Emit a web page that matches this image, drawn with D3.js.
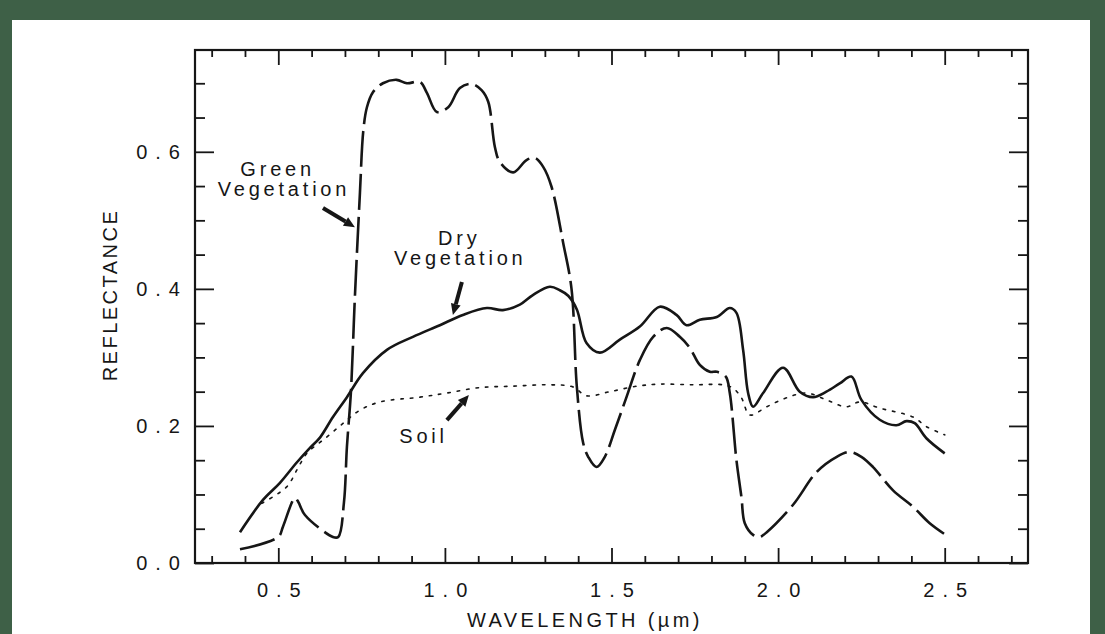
<!DOCTYPE html>
<html>
<head>
<meta charset="utf-8">
<script src="https://cdn.jsdelivr.net/npm/d3@7/dist/d3.min.js"></script>
<style>
  html, body { margin: 0; padding: 0; background: #3e6047; }
  svg { display: block; }
</style>
</head>
<body>
<svg id="chart" width="1105" height="634"></svg>
<script>
// ---------------- data ----------------
const greenW = [0.385,0.50,0.514,0.55,0.56,0.58,0.664,0.68,0.697,0.706,0.718,0.73,0.745,0.755,0.766,0.784,0.814,0.855,0.886,0.925,0.946,0.976,1.01,1.045,1.08,1.11,1.13,1.15,1.165,1.205,1.245,1.27,1.295,1.32,1.355,1.38,1.396,1.415,1.43,1.455,1.48,1.51,1.545,1.585,1.625,1.666,1.705,1.735,1.765,1.795,1.816,1.843,1.855,1.875,1.89,1.90,1.925,1.945,1.966,2.045,2.116,2.176,2.215,2.25,2.285,2.345,2.405,2.455,2.50];
const greenR = [0.020,0.038,0.053,0.095,0.089,0.070,0.038,0.038,0.088,0.17,0.25,0.39,0.54,0.63,0.665,0.687,0.70,0.705,0.70,0.702,0.686,0.658,0.665,0.693,0.699,0.69,0.673,0.607,0.585,0.57,0.588,0.591,0.578,0.549,0.467,0.40,0.257,0.175,0.155,0.14,0.155,0.194,0.242,0.296,0.33,0.343,0.33,0.314,0.289,0.279,0.279,0.272,0.248,0.15,0.096,0.058,0.041,0.038,0.045,0.085,0.133,0.155,0.162,0.155,0.14,0.106,0.082,0.058,0.042];

const dryW = [0.385,0.454,0.505,0.556,0.595,0.625,0.664,0.706,0.754,0.826,0.904,0.985,1.054,1.126,1.174,1.225,1.264,1.315,1.345,1.37,1.396,1.425,1.465,1.525,1.585,1.645,1.695,1.725,1.765,1.816,1.855,1.875,1.895,1.91,1.925,1.955,2.015,2.065,2.105,2.145,2.185,2.22,2.25,2.305,2.355,2.385,2.41,2.445,2.50];
const dryR = [0.045,0.092,0.117,0.147,0.168,0.183,0.213,0.242,0.277,0.311,0.33,0.347,0.362,0.372,0.369,0.377,0.391,0.403,0.398,0.39,0.37,0.321,0.307,0.326,0.345,0.374,0.362,0.347,0.355,0.359,0.372,0.365,0.311,0.248,0.228,0.248,0.285,0.25,0.242,0.25,0.262,0.272,0.238,0.209,0.201,0.207,0.204,0.182,0.16];

const soilW = [0.45,0.525,0.556,0.586,0.646,0.695,0.745,0.805,0.925,1.006,1.105,1.205,1.305,1.384,1.425,1.495,1.576,1.645,1.745,1.835,1.865,1.89,1.915,1.966,2.025,2.085,2.145,2.205,2.245,2.305,2.405,2.445,2.50];
const soilR = [0.087,0.111,0.136,0.16,0.184,0.204,0.223,0.235,0.242,0.248,0.256,0.258,0.26,0.257,0.244,0.25,0.258,0.261,0.26,0.26,0.255,0.241,0.216,0.228,0.241,0.248,0.238,0.228,0.235,0.226,0.213,0.199,0.187];

const xMajorTicks = [0.5, 1.0, 1.5, 2.0, 2.5];
const xMajorLabels = ["0.5", "1.0", "1.5", "2.0", "2.5"];
const xMinorTicks = [0.3,0.4,0.6,0.7,0.8,0.9,1.1,1.2,1.3,1.4,1.6,1.7,1.8,1.9,2.1,2.2,2.3,2.4,2.6,2.7];
const yMajorTicks = [0.0, 0.2, 0.4, 0.6];
const yMajorLabels = ["0.0", "0.2", "0.4", "0.6"];
const yMinorTicks = [0.05,0.1,0.15,0.25,0.3,0.35,0.45,0.5,0.55,0.65,0.7];

const xTitle = "WAVELENGTH (\u00B5m)";
const yTitle = "REFLECTANCE";

// annotation labels (data coordinates)
const labelTexts = ["Green", "Vegetation", "Dry", "Vegetation", "Soil"];
const labelW = [0.492, 0.511, 1.037, 1.040, 0.930];
const labelR = [0.564, 0.535, 0.464, 0.435, 0.175];
// arrows (from -> to, data coordinates)
const arrowW0 = [0.634, 1.051, 1.006];
const arrowR0 = [0.518, 0.410, 0.2085];
const arrowW1 = [0.730, 1.024, 1.072];
const arrowR1 = [0.490, 0.362, 0.245];

// ---------------- layout ----------------
const svg = d3.select("#chart");
const W = 1105, H = 634;
const frame = {left: 195, right: 1028, top: 50, bottom: 563};

svg.append("rect").attr("x", 0).attr("y", 0).attr("width", W).attr("height", H).attr("fill", "#3e6047");
svg.append("rect").attr("x", 12).attr("y", 20).attr("width", 1078).attr("height", H - 20).attr("fill", "#ffffff");

const x = d3.scaleLinear().domain([0.25, 2.75]).range([frame.left, frame.right]);
const y = d3.scaleLinear().domain([0, 0.75]).range([frame.bottom, 49]);

const ink = "#161616";
const tickFont = "'Liberation Sans', Arial, sans-serif";

function styleAxis(g) {
  g.select(".domain").remove();
  g.selectAll(".tick line").attr("stroke", ink).attr("stroke-width", 1.8);
}

// bottom axis
svg.append("g").attr("transform", `translate(0,${frame.bottom})`)
  .call(d3.axisBottom(x).tickValues(xMinorTicks).tickSize(-7).tickFormat(""))
  .call(styleAxis);
const bx = svg.append("g").attr("transform", `translate(0,${frame.bottom})`)
  .call(d3.axisBottom(x).tickValues(xMajorTicks).tickSize(-15).tickPadding(20)
    .tickFormat((d, i) => xMajorLabels[i]))
  .call(styleAxis);
bx.selectAll(".tick text").attr("font-family", tickFont).attr("font-size", 20)
  .attr("letter-spacing", "8px").attr("dx", 4).attr("fill", ink);

// top axis
svg.append("g").attr("transform", `translate(0,${frame.top})`)
  .call(d3.axisTop(x).tickValues(xMinorTicks).tickSize(-7).tickFormat(""))
  .call(styleAxis);
svg.append("g").attr("transform", `translate(0,${frame.top})`)
  .call(d3.axisTop(x).tickValues(xMajorTicks).tickSize(-15).tickFormat(""))
  .call(styleAxis);

// left axis
svg.append("g").attr("transform", `translate(${frame.left},0)`)
  .call(d3.axisLeft(y).tickValues(yMinorTicks).tickSize(-10).tickFormat(""))
  .call(styleAxis);
const ly = svg.append("g").attr("transform", `translate(${frame.left},0)`)
  .call(d3.axisLeft(y).tickValues(yMajorTicks).tickSize(-19).tickPadding(7)
    .tickFormat((d, i) => yMajorLabels[i]))
  .call(styleAxis);
ly.selectAll(".tick text").attr("font-family", tickFont).attr("font-size", 20)
  .attr("letter-spacing", "8px").attr("fill", ink);

// right axis
svg.append("g").attr("transform", `translate(${frame.right},0)`)
  .call(d3.axisRight(y).tickValues(yMinorTicks).tickSize(-10).tickFormat(""))
  .call(styleAxis);
svg.append("g").attr("transform", `translate(${frame.right},0)`)
  .call(d3.axisRight(y).tickValues(yMajorTicks).tickSize(-19).tickFormat(""))
  .call(styleAxis);

// frame
svg.append("rect")
  .attr("x", frame.left).attr("y", frame.top)
  .attr("width", frame.right - frame.left).attr("height", frame.bottom - frame.top)
  .attr("fill", "none").attr("stroke", ink).attr("stroke-width", 2.2);

// axis titles
svg.append("text")
  .attr("x", 585).attr("y", 627)
  .attr("text-anchor", "middle")
  .attr("font-family", tickFont).attr("font-size", 20)
  .attr("letter-spacing", "3.4px").attr("fill", ink)
  .text(xTitle);
svg.append("text")
  .attr("transform", "translate(117,295) rotate(-90)")
  .attr("text-anchor", "middle")
  .attr("font-family", tickFont).attr("font-size", 20)
  .attr("letter-spacing", "2.5px").attr("fill", ink)
  .text(yTitle);

// ---------------- curves ----------------
const line = d3.line()
  .x(d => x(d[0])).y(d => y(d[1]))
  .curve(d3.curveCatmullRom.alpha(0.5));

const greenData = greenW.map((w, i) => [w, greenR[i]]);
const dryData = dryW.map((w, i) => [w, dryR[i]]);
const soilData = soilW.map((w, i) => [w, soilR[i]]);

svg.append("path").datum(soilData).attr("d", line)
  .attr("fill", "none").attr("stroke", ink).attr("stroke-width", 1.6)
  .attr("stroke-dasharray", "2.5,7").attr("stroke-linecap", "round");

svg.append("path").datum(dryData).attr("d", line)
  .attr("fill", "none").attr("stroke", ink).attr("stroke-width", 2.6)
  .attr("stroke-linejoin", "round");

svg.append("path").datum(greenData).attr("d", line)
  .attr("fill", "none").attr("stroke", ink).attr("stroke-width", 2.6)
  .attr("stroke-dasharray", "36,7");

// ---------------- annotations ----------------
const annFont = "'Liberation Sans', Arial, sans-serif";
labelTexts.forEach((t, i) => {
  svg.append("text")
    .attr("x", x(labelW[i]) + 2).attr("y", y(labelR[i]))
    .attr("text-anchor", "middle")
    .attr("font-family", annFont).attr("font-size", 20)
    .attr("letter-spacing", "3.8px").attr("fill", ink)
    .text(t);
});

arrowW0.forEach((w0, i) => {
  const x0 = x(w0), y0 = y(arrowR0[i]);
  const x1 = x(arrowW1[i]), y1 = y(arrowR1[i]);
  const ang = Math.atan2(y1 - y0, x1 - x0);
  const headLen = 11, headHalf = 5;
  const bx0 = x1 - headLen * Math.cos(ang), by0 = y1 - headLen * Math.sin(ang);
  svg.append("line")
    .attr("x1", x0).attr("y1", y0).attr("x2", bx0).attr("y2", by0)
    .attr("stroke", ink).attr("stroke-width", 4).attr("stroke-linecap", "butt");
  const px = -Math.sin(ang), py = Math.cos(ang);
  svg.append("path")
    .attr("d", `M${x1},${y1}L${bx0 + px * headHalf},${by0 + py * headHalf}L${bx0 - px * headHalf},${by0 - py * headHalf}Z`)
    .attr("fill", ink);
});
</script>
</body>
</html>
